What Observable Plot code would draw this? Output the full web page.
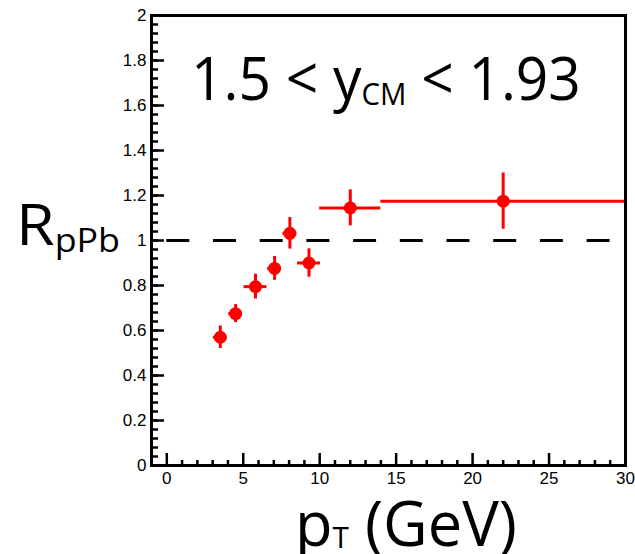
<!DOCTYPE html>
<html><head><meta charset="utf-8">
<script src="https://cdn.jsdelivr.net/npm/d3@7"></script>
<script src="https://cdn.jsdelivr.net/npm/@observablehq/plot@0.6"></script>
<style>body{margin:0;background:#fff}</style>
</head><body><div id="chart"></div>
<script>
// ---- data ----
const pt      = [3.5, 4.5, 5.8, 7.05, 8.05, 9.3, 12, 22];
const ptErr   = [0.45, 0.45, 0.75, 0.45, 0.45, 0.75, 2, 8];
const rpPb    = [0.57, 0.675, 0.795, 0.876, 1.032, 0.90, 1.145, 1.175];
const rpPbErr = [0.05, 0.04, 0.055, 0.053, 0.07, 0.063, 0.08, 0.125];
const refLine = [{y: 1, x1: 0, x2: 30}];
const xTicks = [0, 5, 10, 15, 20, 25, 30];
const yTicks = [0, 0.2, 0.4, 0.6, 0.8, 1, 1.2, 1.4, 1.6, 1.8, 2];
const xMinor = d3.range(-1, 31, 1).filter(d => d % 5 !== 0);
const yMinor = d3.range(0, 2.001, 0.04);

const rows = pt.map((x, i) => ({x, xe: ptErr[i], y: rpPb[i], ye: rpPbErr[i]}));

const W = 635, H = 554;
const mL = 151, mR = 10, mT = 15, mB = 89;
const fw = W - mL - mR, fh = H - mT - mB;

const plot = Plot.plot({
  width: W, height: H,
  marginLeft: mL, marginRight: mR, marginTop: mT, marginBottom: mB,
  style: {fontFamily: "'Liberation Sans', Arial, sans-serif", fontSize: "17px", color: "black", background: "white"},
  x: {domain: [-1, 30]},
  y: {domain: [0, 2]},
  marks: [
    Plot.ruleY(refLine, {y: "y", x1: "x1", x2: "x2", stroke: "black", strokeWidth: 3, strokeDasharray: "23,23.7"}),
    Plot.ruleY(rows, {y: "y", x1: d => d.x - d.xe, x2: d => d.x + d.xe, stroke: "#ff0000", strokeWidth: 3}),
    Plot.ruleX(rows, {x: "x", y1: d => d.y - d.ye, y2: d => d.y + d.ye, stroke: "#ff0000", strokeWidth: 3}),
    Plot.dot(rows, {x: "x", y: "y", r: 6.5, fill: "#ff0000", stroke: "none"}),
    Plot.tickX(xMinor, {x: d => d, insetTop: fh - 5, stroke: "black", strokeWidth: 2.5}),
    Plot.tickX(xTicks, {x: d => d, insetTop: fh - 12, stroke: "black", strokeWidth: 2.5}),
    Plot.tickY(yMinor, {y: d => d, insetRight: fw - 7, stroke: "black", strokeWidth: 2.5}),
    Plot.tickY(yTicks, {y: d => d, insetRight: fw - 13, stroke: "black", strokeWidth: 2.5}),
    Plot.axisX({ticks: xTicks, tickSize: 0, tickPadding: 6, label: null, tickFormat: d => String(d)}),
    Plot.axisY({ticks: yTicks, tickSize: 0, tickPadding: 5, label: null, tickFormat: d => String(d)}),
    Plot.frame({stroke: "black", strokeWidth: 3})
  ]
});
document.getElementById("chart").append(plot);

const svg = d3.select(plot);
const big = "'Open Sans', 'Noto Sans', sans-serif";

function fitX(sel, left, right) {
  const bb = sel.node().getBBox();
  const sx = (right - left) / bb.width;
  sel.attr("transform", `translate(${left},0) scale(${sx},1) translate(${-bb.x},0)`);
}

const t1 = svg.append("text").attr("x", 195).attr("y", 100).attr("text-anchor", "start")
  .style("font-family", big).style("font-size", "60px").attr("fill", "black");
t1.append("tspan").text("1.5 < y");
t1.append("tspan").attr("dy", 5).style("font-size", "31px").text("CM");
t1.append("tspan").attr("dy", -5).text(" < 1.93");
fitX(t1, 191, 581);

const t2 = svg.append("text").attr("x", 20).attr("y", 245).attr("text-anchor", "start")
  .style("font-family", big).style("font-size", "56px").attr("fill", "black");
t2.append("tspan").text("R");
t2.append("tspan").attr("dy", 7).style("font-size", "32px").text("pPb");
fitX(t2, 16, 120);

const t3 = svg.append("text").attr("x", 300).attr("y", 546).attr("text-anchor", "start")
  .style("font-family", big).style("font-size", "62px").attr("fill", "black");
t3.append("tspan").text("p");
t3.append("tspan").attr("dy", 2).style("font-size", "30px").text("T");
t3.append("tspan").attr("dy", -2).text(" (GeV)");
fitX(t3, 295, 517);
</script>
</body></html>
